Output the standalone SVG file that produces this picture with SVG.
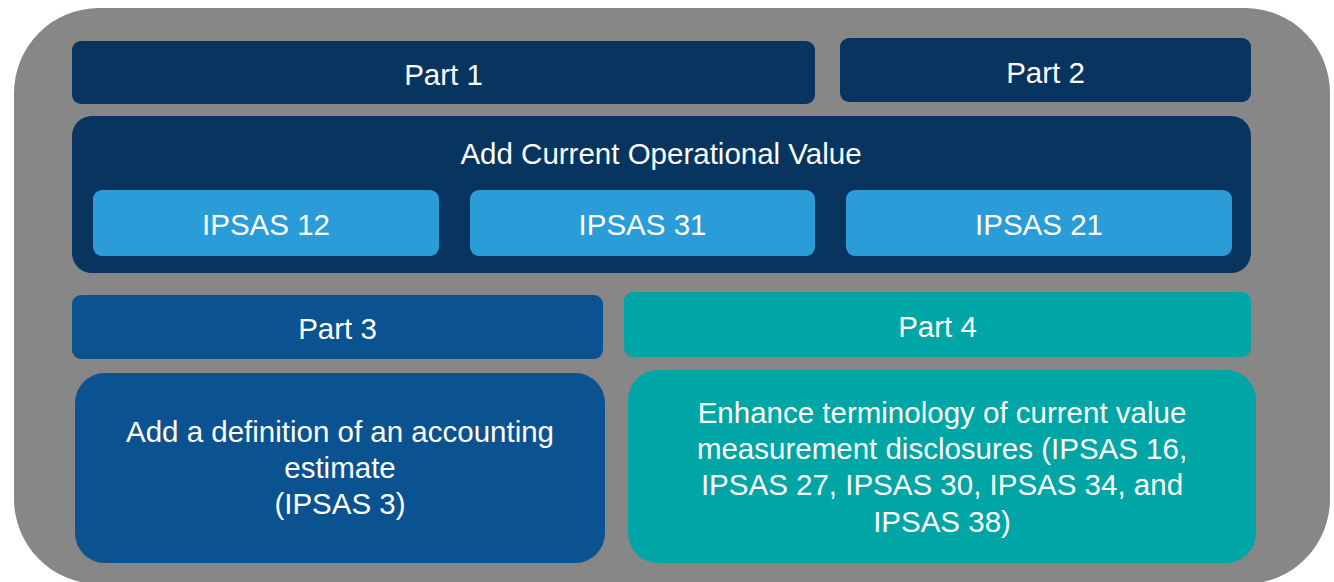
<svg xmlns="http://www.w3.org/2000/svg" width="1334" height="582" viewBox="0 0 1334 582">
<style>
text{font-family:"Liberation Sans",Arial,sans-serif;font-size:29.5px;fill:#ffffff;text-anchor:middle}
.navy{fill:#08355F}
.sky{fill:#2A9CD8}
.blue{fill:#0B5291}
.teal{fill:#00A5A6}
</style>
<rect x="14" y="8" width="1316" height="576" rx="85" ry="85" fill="#878787"/>
<g id="part1">
<rect class="navy" x="72" y="41" width="743" height="63" rx="9"/>
<text x="443.5" y="85">Part 1</text>
</g>
<g id="part2">
<rect class="navy" x="840" y="38" width="411" height="64" rx="9"/>
<text x="1045.5" y="83">Part 2</text>
</g>
<g id="cov">
<rect class="navy" x="72" y="116" width="1179" height="157" rx="20"/>
<text x="661" y="163.5">Add Current Operational Value</text>
</g>
<g id="ipsas12">
<rect class="sky" x="93" y="190" width="346" height="66" rx="9"/>
<text x="266" y="234.5">IPSAS 12</text>
</g>
<g id="ipsas31">
<rect class="sky" x="470" y="190" width="345" height="66" rx="9"/>
<text x="642.5" y="234.5">IPSAS 31</text>
</g>
<g id="ipsas21">
<rect class="sky" x="846" y="190" width="386" height="66" rx="9"/>
<text x="1039" y="234.5">IPSAS 21</text>
</g>
<g id="part3">
<rect class="blue" x="72" y="295" width="531" height="64" rx="9"/>
<text x="337.5" y="339">Part 3</text>
</g>
<g id="part4">
<rect class="teal" x="624" y="292" width="627" height="65" rx="9"/>
<text x="937.5" y="336.5">Part 4</text>
</g>
<g id="part3body">
<rect class="blue" x="75" y="373" width="530" height="190" rx="30"/>
<text x="340" y="442">Add a definition of an accounting</text>
<text x="340" y="478">estimate</text>
<text x="340" y="514">(IPSAS 3)</text>
</g>
<g id="part4body">
<rect class="teal" x="628" y="370" width="628" height="193" rx="30"/>
<text x="942" y="422.5">Enhance terminology of current value</text>
<text x="942" y="458.5">measurement disclosures (IPSAS 16,</text>
<text x="942" y="495">IPSAS 27, IPSAS 30, IPSAS 34, and</text>
<text x="942" y="531.5">IPSAS 38)</text>
</g>
<g id="connectors"/>
</svg>
